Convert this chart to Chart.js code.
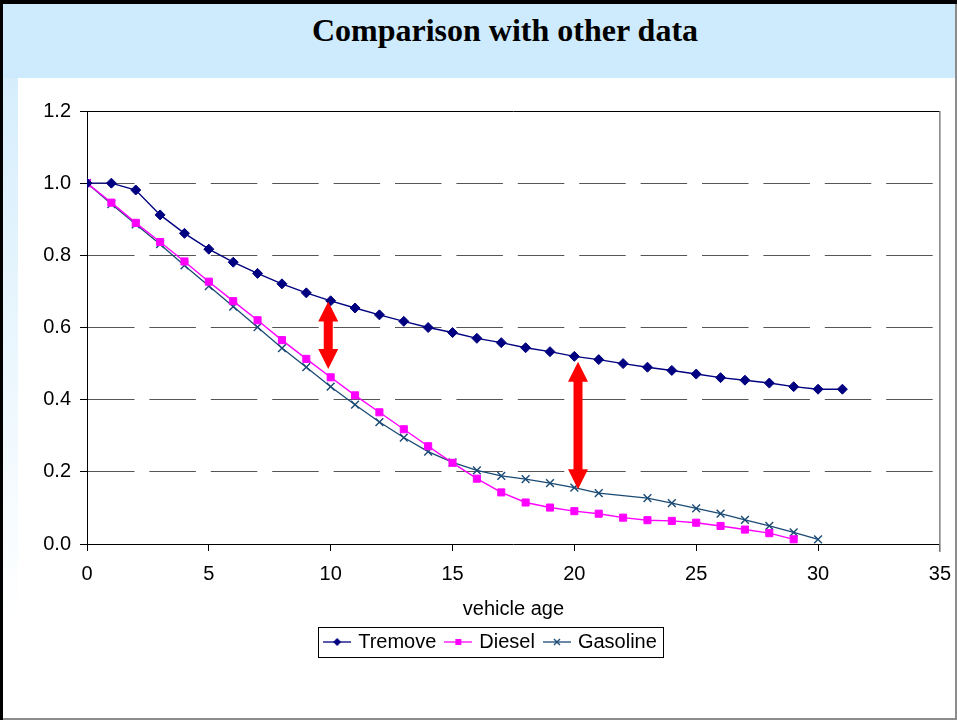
<!DOCTYPE html>
<html>
<head>
<meta charset="utf-8">
<title>Comparison with other data</title>
<script src="https://cdn.jsdelivr.net/npm/chart.js@4.4.1/dist/chart.umd.min.js"></script>
<style>
  body { margin: 0; background: #fff; }
  #frame { position: relative; width: 957px; height: 720px; overflow: hidden; background: #fff; }
  #topline { position: absolute; left: 0; top: 0; width: 957px; height: 4px; background: #000; }
  #leftline { position: absolute; left: 0; top: 0; width: 3px; height: 720px; background: #000; }
  #rightline { position: absolute; left: 955px; top: 4px; width: 2px; height: 716px; background: #8c8c8c; }
  #bottomline { position: absolute; left: 3px; top: 718px; width: 954px; height: 2px; background: #8c8c8c; }
  #band { position: absolute; left: 3px; top: 4px; width: 952px; height: 74px; background: #cdebfc; }
  #strip { position: absolute; left: 3px; top: 78px; width: 15px; height: 640px;
           background: linear-gradient(#d6eefc, #fff 85%); }
  #title { position: absolute; left: 53px; right: 0; top: 12px; line-height: 32px; text-align: center;
           font: bold 32px "Liberation Serif", "Times New Roman", serif; color: #000; }
  #chart { position: absolute; left: 18px; top: 78px; }
</style>
</head>
<body>
<div id="frame">
  <div id="band"></div>
  <div id="strip"></div>
  <div id="title">Comparison with other data</div>
  <canvas id="chart" width="944" height="640"></canvas>
  <div id="topline"></div>
  <div id="leftline"></div>
  <div id="rightline"></div>
  <div id="bottomline"></div>
</div>
<script>
// values
const vehicleAge = [0, 1, 2, 3, 4, 5, 6, 7, 8, 9, 10, 11, 12, 13, 14, 15,
  16, 17, 18, 19, 20, 21, 22, 23, 24, 25, 26, 27, 28, 29, 30, 31];
const tremove = [1.0, 1.0, 0.981, 0.912, 0.861, 0.817, 0.781, 0.750, 0.721, 0.696, 0.674,
  0.654, 0.635, 0.617, 0.600, 0.586, 0.570, 0.558, 0.544, 0.533, 0.520,
  0.511, 0.500, 0.490, 0.481, 0.471, 0.461, 0.454, 0.446, 0.436, 0.429, 0.429];
const diesel = [1.0, 0.946, 0.890, 0.837, 0.783, 0.727, 0.673, 0.620, 0.565, 0.513, 0.462,
  0.412, 0.365, 0.318, 0.271, 0.225, 0.181, 0.143, 0.115, 0.101, 0.091,
  0.084, 0.073, 0.066, 0.064, 0.059, 0.050, 0.040, 0.030, 0.013];
const gasoline = [1.0, 0.942, 0.886, 0.831, 0.772, 0.715, 0.658, 0.601, 0.543, 0.490, 0.436,
  0.386, 0.338, 0.295, 0.256, 0.226, 0.204, 0.189, 0.180, 0.169, 0.156,
  0.141, null, 0.127, 0.113, 0.099, 0.084, 0.067, 0.050, 0.032, 0.013];
const seriesNames = ["Tremove", "Diesel", "Gasoline"];

// red arrows marking the gap between curves
const arrowAge = [9.9, 20.15];
const arrowTop = [0.672, 0.505];
const arrowBottom = [0.485, 0.152];

const colTremove = "#000080";
const colDiesel = "#ff00ff";
const colGasoline = "#1a4a74";

function toPoints(values) {
  const pts = [];
  values.forEach((v, i) => {
    if (v !== null) pts.push({ x: vehicleAge[i], y: v });
  });
  return pts;
}

// little line + marker swatches for the legend
function makeIcon(color, marker) {
  const c = document.createElement("canvas");
  c.width = 28;
  c.height = 12;
  const g = c.getContext("2d");
  g.strokeStyle = color;
  g.fillStyle = color;
  g.lineWidth = 1.3;
  g.beginPath();
  g.moveTo(0, 6);
  g.lineTo(28, 6);
  g.stroke();
  g.beginPath();
  if (marker === "diamond") {
    g.moveTo(14, 2); g.lineTo(18, 6); g.lineTo(14, 10); g.lineTo(10, 6);
    g.closePath(); g.fill();
  } else if (marker === "square") {
    g.fillRect(11, 3, 6, 6);
  } else {
    g.lineWidth = 1.4;
    g.moveTo(11, 3); g.lineTo(17, 9);
    g.moveTo(17, 3); g.lineTo(11, 9);
    g.stroke();
  }
  return c;
}
const legendIcons = [
  makeIcon(colTremove, "diamond"),
  makeIcon(colDiesel, "square"),
  makeIcon(colGasoline, "cross"),
];

const arrowPlugin = {
  id: "gapArrows",
  afterDatasetsDraw(chart) {
    const { ctx } = chart;
    const x = chart.scales.x;
    const y = chart.scales.y;
    ctx.save();
    ctx.fillStyle = "#ff0000";
    arrowAge.forEach((age, i) => {
      const px = x.getPixelForValue(age);
      const top = y.getPixelForValue(arrowTop[i]);
      const bot = y.getPixelForValue(arrowBottom[i]);
      const head = 20, half = 10, shaft = 4.5;
      ctx.beginPath();
      ctx.moveTo(px, top);
      ctx.lineTo(px + half, top + head);
      ctx.lineTo(px + shaft, top + head);
      ctx.lineTo(px + shaft, bot - head);
      ctx.lineTo(px + half, bot - head);
      ctx.lineTo(px, bot);
      ctx.lineTo(px - half, bot - head);
      ctx.lineTo(px - shaft, bot - head);
      ctx.lineTo(px - shaft, top + head);
      ctx.lineTo(px - half, top + head);
      ctx.closePath();
      ctx.fill();
    });
    ctx.restore();
  },
};

// top and right edges of the plot area, box round the legend
const framePlugin = {
  id: "plotFrame",
  beforeDatasetsDraw(chart) {
    const { ctx, chartArea } = chart;
    ctx.save();
    ctx.lineWidth = 1;
    ctx.strokeStyle = "#000";
    ctx.beginPath();
    ctx.moveTo(chartArea.left, Math.round(chartArea.top) + 0.5);
    ctx.lineTo(chartArea.right, Math.round(chartArea.top) + 0.5);
    ctx.stroke();
    ctx.strokeStyle = "#808080";
    ctx.lineWidth = 1.5;
    ctx.beginPath();
    ctx.moveTo(chartArea.right, chartArea.top);
    ctx.lineTo(chartArea.right, chartArea.bottom + 8);
    ctx.stroke();
    ctx.restore();
  },
  afterDraw(chart) {
    const boxes = chart.legend.legendHitBoxes;
    if (!boxes || !boxes.length) return;
    const { ctx } = chart;
    const first = boxes[0];
    const last = boxes[boxes.length - 1];
    const left = Math.round(first.left - 8) + 0.5;
    const right = Math.round(last.left + last.width + 6) + 0.5;
    const mid = first.top + first.height / 2;
    const top = Math.round(mid - 15) + 0.5;
    ctx.save();
    ctx.strokeStyle = "#000";
    ctx.lineWidth = 1;
    ctx.strokeRect(left, top, right - left, 30);
    ctx.restore();
  },
};

Chart.defaults.font.family = "'Liberation Sans', Arial, sans-serif";
Chart.defaults.font.size = 20;
Chart.defaults.color = "#000";

new Chart(document.getElementById("chart"), {
  type: "line",
  data: {
    datasets: [
      {
        label: seriesNames[0],
        data: toPoints(tremove),
        borderColor: colTremove,
        backgroundColor: colTremove,
        borderWidth: 1.4,
        pointStyle: "rectRot",
        pointRadius: 5,
        pointBorderWidth: 1,
      },
      {
        label: seriesNames[1],
        data: toPoints(diesel),
        borderColor: colDiesel,
        backgroundColor: colDiesel,
        borderWidth: 1.4,
        pointStyle: "rect",
        pointRadius: 5,
        pointBorderWidth: 1,
      },
      {
        label: seriesNames[2],
        data: toPoints(gasoline),
        borderColor: colGasoline,
        backgroundColor: colGasoline,
        borderWidth: 1.3,
        pointStyle: "crossRot",
        pointRadius: 5.5,
        pointBorderWidth: 1.4,
      },
    ],
  },
  options: {
    responsive: false,
    animation: false,
    layout: {
      padding: { left: 25, right: 22, top: 33, bottom: 56 },
    },
    elements: {
      line: { tension: 0, fill: false },
    },
    scales: {
      x: {
        type: "linear",
        min: 0,
        max: 35,
        ticks: { stepSize: 5, padding: 11, color: "#000" },
        grid: {
          drawOnChartArea: false,
          drawTicks: true,
          tickLength: 7,
          tickColor: "#000",
        },
        border: { color: "#000", width: 1 },
        title: {
          display: true,
          text: "vehicle age",
          color: "#000",
          padding: { top: 0, bottom: 0 },
        },
      },
      y: {
        min: 0,
        max: 1.2,
        ticks: {
          stepSize: 0.2,
          padding: 9,
          color: "#000",
          callback: (v) => v.toFixed(1),
        },
        grid: {
          color: (c) =>
            c.tick && (Math.abs(c.tick.value) < 1e-6 || Math.abs(c.tick.value - 1.2) < 1e-6)
              ? "rgba(0,0,0,0)"
              : "#555",
          lineWidth: 1,
          tickLength: 7,
          tickColor: "#000",
        },
        border: { color: "#000", width: 1, dash: [46.5, 14.9] },
        afterFit: (scale) => {
          scale.width = 44;
        },
      },
    },
    plugins: {
      title: { display: false },
      tooltip: { enabled: false },
      legend: {
        position: "bottom",
        labels: {
          usePointStyle: true,
          pointStyleWidth: 22,
          padding: 11,
          color: "#000",
          generateLabels: (chart) =>
            chart.data.datasets.map((ds, i) => ({
              text: ds.label,
              pointStyle: legendIcons[i],
              fillStyle: ds.borderColor,
              strokeStyle: ds.borderColor,
              lineWidth: 0,
              fontColor: "#000",
              hidden: false,
              datasetIndex: i,
            })),
        },
      },
    },
  },
  plugins: [framePlugin, arrowPlugin],
});
</script>
</body>
</html>
